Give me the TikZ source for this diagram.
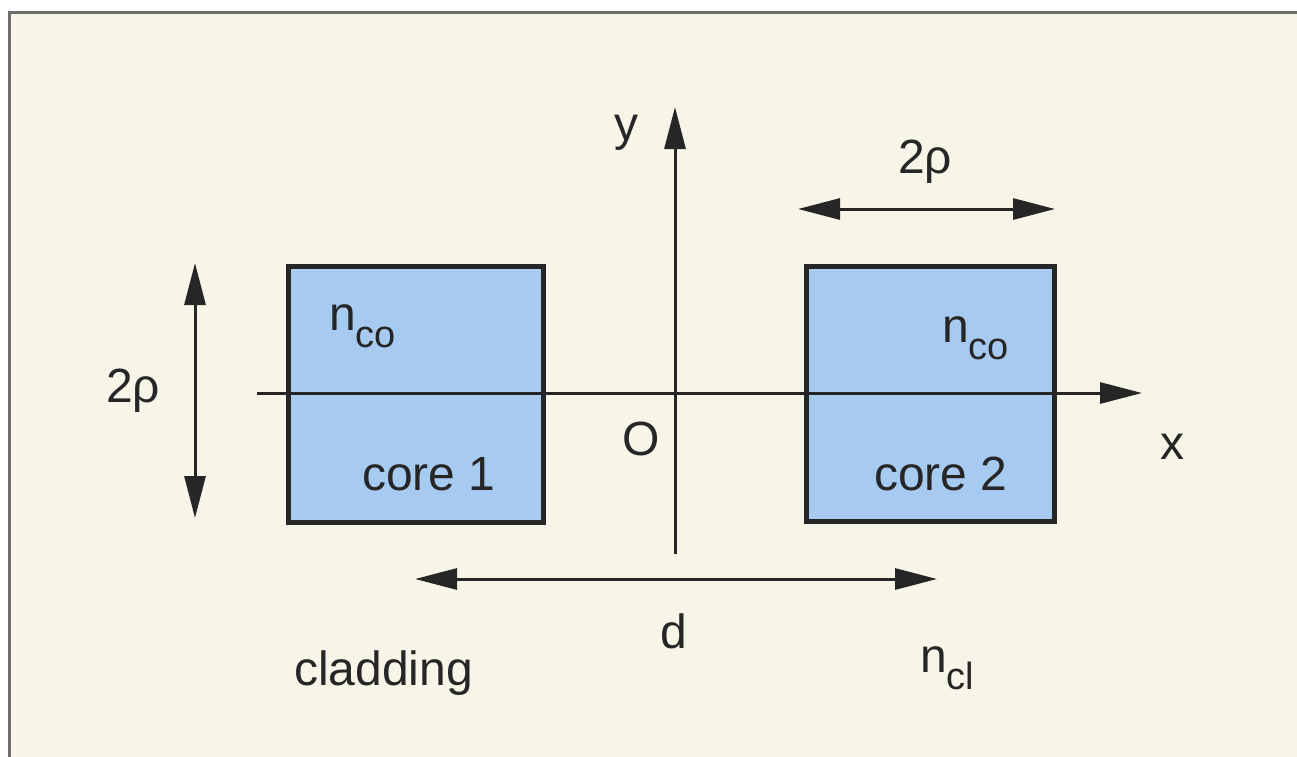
\documentclass[tikz,border=0pt]{standalone}
\usepackage{fontspec}
\setmainfont{Liberation Sans}
\usetikzlibrary{arrows.meta}
\definecolor{cream}{RGB}{247,245,231}
\definecolor{coreblue}{RGB}{166,202,240}
\definecolor{ink}{RGB}{38,38,38}
\definecolor{framegray}{RGB}{110,110,110}
\newcommand{\sbs}[1]{\raisebox{-17pt}{\fontsize{38}{38}\selectfont #1}}
\begin{document}
\begin{tikzpicture}[x=1pt,y=-1pt,
  lbl/.style={font=\fontsize{48}{50}\selectfont, text=ink, inner sep=0pt, anchor=base west},
  corebox/.style={draw=ink, line width=5pt, fill=coreblue, inner sep=0pt},
  tip/.tip={Triangle[length=42pt,width=21pt]},
  dimarrow/.style={draw=ink, line width=3pt, tip-tip},
  axisline/.style={draw=ink, line width=3pt},
  axisarrow/.style={draw=ink, line width=3pt, -tip}]
% background and frame
\fill[white] (0,0) rectangle (1297,756);
\useasboundingbox (0,0) rectangle (1297,756);
\fill[cream] (9,12) rectangle (1320,780);
\draw[framegray, line width=3pt] (9,790) -- (9,12) -- (1320,12);
% cores
\node[corebox, minimum width=255pt, minimum height=256pt] (core1) at (415.5,394) {};
\node[corebox, minimum width=248pt, minimum height=255pt] (core2) at (930,393.5) {};
% axes
\coordinate (xs) at (257,393);
\coordinate (xe) at (1142,393);
\coordinate (ys) at (675,554);
\coordinate (ye) at (675,107);
\draw[axisline] (xs) -- (core1.west |- xs);
\draw[axisarrow] (core1.west |- xs) -- (xe);
\draw[axisarrow] (ys) -- (ye);
% dimension arrows
\coordinate (va) at (195,263);
\coordinate (vb) at (195,518);
\draw[dimarrow] (va) -- (vb);
\coordinate (ha) at (798,209);
\coordinate (hb) at (1055,209);
\draw[dimarrow] (ha) -- (hb);
\coordinate (da) at (415,579);
\coordinate (db) at (937,579);
\draw[dimarrow] (da) -- (db);
% labels
\node[lbl] (ylab) at (614,140) {y};
\node[lbl] (xlab) at (1160,459) {x};
\node[lbl] (olab) at (622,455) {O};
\node[lbl] (dlab) at (660,648) {d};
\node[lbl] (rhotop) at (898,173) {2ρ};
\node[lbl] (rholeft) at (106,402) {2ρ};
\node[lbl] (nco1) at (329,330) {n\sbs{co}};
\node[lbl] (nco2) at (942,342) {n\sbs{co}};
\node[lbl] (c1lab) at (362,490) {core 1};
\node[lbl] (c2lab) at (874,490) {core 2};
\node[lbl] (cladlab) at (294,685) {cladding};
\node[lbl] (ncl) at (920,672) {n\sbs{cl}};
\end{tikzpicture}
\end{document}
